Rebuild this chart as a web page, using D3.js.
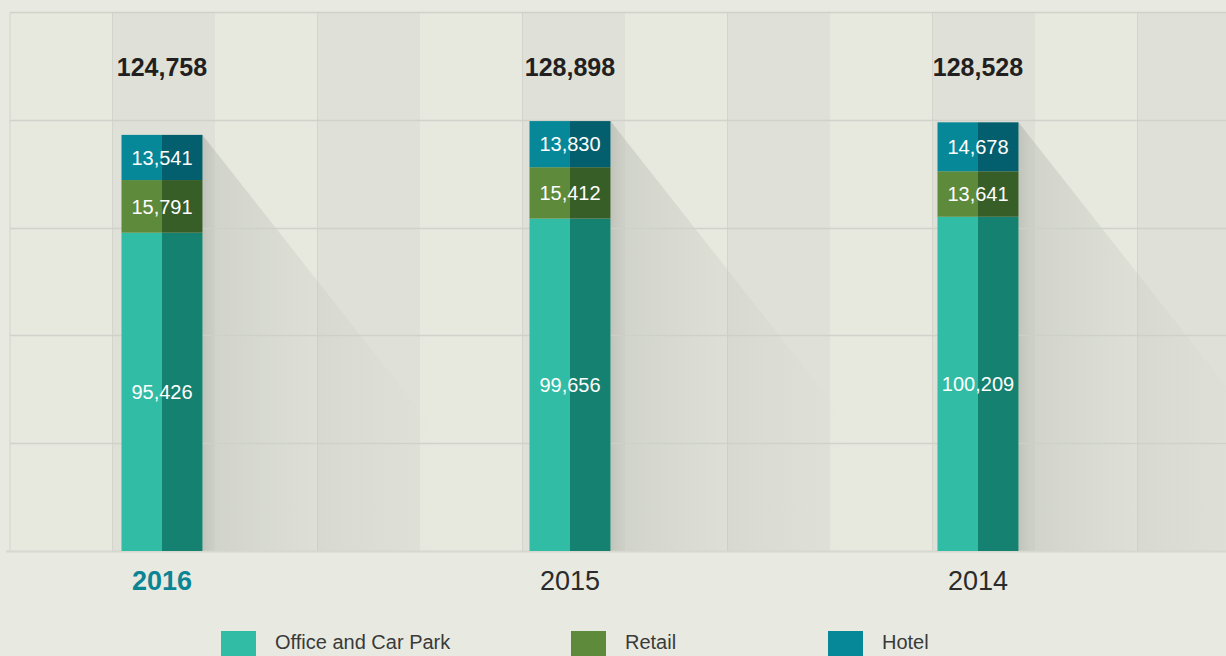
<!DOCTYPE html>
<html>
<head>
<meta charset="utf-8">
<script src="https://cdn.jsdelivr.net/npm/d3@7"></script>
<style>
  body { margin: 0; background: #e8eae1; }
  svg { display: block; font-family: "Liberation Sans", Arial, sans-serif; }
</style>
</head>
<body>
<div id="chart"></div>
<script>
// data
var years = ["2016", "2015", "2014"];
var officeValues = [95426, 99656, 100209];
var retailValues = [15791, 15412, 13641];
var hotelValues = [13541, 13830, 14678];
var totals = [124758, 128898, 128528];
var seriesNames = ["Office and Car Park", "Retail", "Hotel"];

var svgWidth = 1226;
var svgHeight = 656;

var plot = { left: 10, top: 12, right: 1226, bottom: 551 };
var yMax = 161600;
var barWidth = 81;

var lightColors = ["#31bca5", "#5e8a3b", "#068899"];
var darkColors = ["#158170", "#375e27", "#035f6d"];

var svg = d3.select("#chart")
    .append("svg")
    .attr("width", svgWidth)
    .attr("height", svgHeight);

var defs = svg.append("defs");
var grad = defs.append("linearGradient")
    .attr("id", "shade")
    .attr("x1", "0%").attr("x2", "100%")
    .attr("y1", "0%").attr("y2", "0%");
grad.append("stop").attr("offset", "0%").attr("stop-color", "#a9aca3").attr("stop-opacity", 0.55);
grad.append("stop").attr("offset", "5%").attr("stop-color", "#b3b6ad").attr("stop-opacity", 0.42);
grad.append("stop").attr("offset", "100%").attr("stop-color", "#c8cac2").attr("stop-opacity", 0);

// scales
var x = d3.scalePoint()
    .domain(years)
    .range([162, 978]);

var y = d3.scaleLinear()
    .domain([0, yMax])
    .range([plot.bottom, plot.top]);

// background columns
var colWidth = 102.5;
var cols = d3.range(12).map(function (i) { return plot.left + i * colWidth; });
svg.append("g").selectAll("rect")
    .data(cols)
    .enter()
    .append("rect")
    .attr("x", d => d)
    .attr("y", plot.top)
    .attr("width", colWidth)
    .attr("height", plot.bottom - plot.top)
    .attr("fill", (d, i) => i % 2 ? "#dfe1d8" : "#e7e9df");

svg.append("g").selectAll("line")
    .data(cols.filter((d, i) => i % 2 == 1).concat([plot.left]))
    .enter()
    .append("line")
    .attr("x1", d => d).attr("x2", d => d)
    .attr("y1", plot.top).attr("y2", plot.bottom)
    .attr("stroke", "#d3d5cd")
    .attr("stroke-width", 1);

// data table
var data = years.map(function (yr, i) {
    return { year: yr, office: officeValues[i], retail: retailValues[i], hotel: hotelValues[i], total: totals[i] };
});
var keys = ["office", "retail", "hotel"];
var stacked = d3.stack().keys(keys)(data);

// shadows
var shadowLen = 235;
svg.append("g").selectAll("path")
    .data(data)
    .enter()
    .append("path")
    .attr("d", function (d) {
        var x1 = x(d.year) + barWidth / 2;
        var top = y(d.total);
        var slope = 1.27;
        var yEnd = Math.min(top + shadowLen * slope, plot.bottom);
        return "M" + x1 + "," + top + "L" + (x1 + shadowLen) + "," + yEnd +
            "L" + (x1 + shadowLen) + "," + plot.bottom + "L" + x1 + "," + plot.bottom + "Z";
    })
    .attr("fill", "url(#shade)");

// horizontal grid
var gridVals = d3.range(6).map(i => i * yMax / 5);
svg.append("g").selectAll("line")
    .data(gridVals)
    .enter()
    .append("line")
    .attr("x1", d => d == 0 ? 6 : plot.left)
    .attr("x2", plot.right)
    .attr("y1", d => Math.round(y(d)) + 0.5)
    .attr("y2", d => Math.round(y(d)) + 0.5)
    .attr("stroke", d => d == 0 ? "#d6d8d0" : "#cfd1c9")
    .attr("stroke-width", d => d == 0 ? 2 : 1.5)
    .attr("opacity", 0.9);

// bars: light left half, dark right half
var barG = svg.append("g");
stacked.forEach(function (layer, k) {
    var g = barG.append("g");
    g.selectAll("rect.l")
        .data(layer)
        .enter()
        .append("rect")
        .attr("class", "l")
        .attr("x", d => x(d.data.year) - barWidth / 2)
        .attr("y", d => y(d[1]))
        .attr("width", barWidth / 2)
        .attr("height", d => y(d[0]) - y(d[1]))
        .attr("fill", lightColors[k]);
    g.selectAll("rect.r")
        .data(layer)
        .enter()
        .append("rect")
        .attr("class", "r")
        .attr("x", d => x(d.data.year))
        .attr("y", d => y(d[1]))
        .attr("width", barWidth / 2)
        .attr("height", d => y(d[0]) - y(d[1]))
        .attr("fill", darkColors[k]);
    g.selectAll("text")
        .data(layer)
        .enter()
        .append("text")
        .attr("x", d => x(d.data.year))
        .attr("y", d => (y(d[0]) + y(d[1])) / 2)
        .attr("dy", "0.36em")
        .attr("text-anchor", "middle")
        .attr("fill", "#ffffff")
        .attr("font-size", "20px")
        .text(d => d3.format(",")(d[1] - d[0]));
});

// totals
svg.append("g").selectAll("text")
    .data(data)
    .enter()
    .append("text")
    .attr("x", d => x(d.year))
    .attr("y", 76)
    .attr("text-anchor", "middle")
    .attr("font-size", "25px")
    .attr("font-weight", "bold")
    .attr("fill", "#231f20")
    .text(d => d3.format(",")(d.total));

// year labels
svg.append("g").selectAll("text")
    .data(years)
    .enter()
    .append("text")
    .attr("x", d => x(d))
    .attr("y", 590)
    .attr("text-anchor", "middle")
    .attr("font-size", "27px")
    .attr("font-weight", (d, i) => i == 0 ? "bold" : "normal")
    .attr("fill", (d, i) => i == 0 ? "#0b8494" : "#2b2b2b")
    .text(d => d);

// legend
var legendX = [221, 571, 828];
var legend = svg.append("g").selectAll("g")
    .data(seriesNames)
    .enter()
    .append("g")
    .attr("transform", (d, i) => `translate(${legendX[i]}, 631)`);
legend.append("rect")
    .attr("width", 35)
    .attr("height", 26)
    .attr("fill", (d, i) => lightColors[i]);
legend.append("text")
    .attr("x", 54)
    .attr("y", 18)
    .attr("font-size", "20px")
    .attr("fill", "#3a3a3a")
    .text(d => d);
</script>
</body>
</html>
